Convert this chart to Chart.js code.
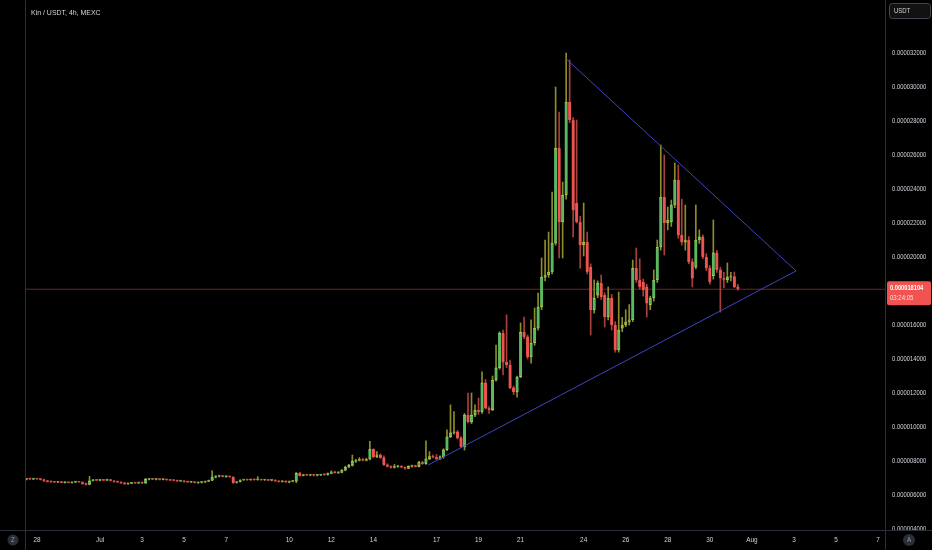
<!DOCTYPE html>
<html>
<head>
<meta charset="utf-8">
<script src="https://cdn.jsdelivr.net/npm/chart.js@4.4.1/dist/chart.umd.min.js"></script>
<style>
  html, body { margin: 0; padding: 0; background: #000; }
  #wrap { width: 932px; height: 550px; }
</style>
</head>
<body>
<div id="wrap"><canvas id="kinChart" width="932" height="550"></canvas></div>
<script>
// Kin / USDT 4h candles, prices in units of 1e-6 USDT: [open, high, low, close]
const baseCandles = [
  [6.92,6.98,6.88,6.95],[6.95,6.99,6.90,6.93],[6.93,6.97,6.90,6.96],[6.96,6.98,6.91,6.94],
  [6.94,6.97,6.88,6.90],[6.90,6.93,6.80,6.82],[6.82,6.86,6.76,6.79],[6.79,6.82,6.74,6.77],
  [6.77,6.80,6.72,6.75],[6.75,6.79,6.72,6.77],[6.77,6.79,6.71,6.73],[6.73,6.77,6.70,6.75],
  [6.75,6.78,6.71,6.72],[6.72,6.78,6.70,6.76],[6.76,6.80,6.72,6.78],[6.78,6.81,6.74,6.75],
  [6.75,6.78,6.62,6.65],[6.65,6.70,6.58,6.62],[6.62,7.10,6.60,6.84],[6.84,6.92,6.82,6.88],
  [6.88,6.92,6.85,6.86],[6.86,6.90,6.83,6.88],[6.88,6.92,6.84,6.86],[6.86,6.93,6.84,6.90],
  [6.90,6.92,6.82,6.84],[6.84,6.86,6.76,6.78],[6.78,6.82,6.74,6.76],[6.76,6.79,6.68,6.70],
  [6.70,6.74,6.62,6.65],[6.65,6.70,6.62,6.68],[6.68,6.74,6.66,6.72],[6.72,6.75,6.68,6.70],
  [6.70,6.76,6.68,6.74],[6.74,6.77,6.66,6.70],[6.70,6.98,6.68,6.92],[6.92,6.96,6.88,6.94],
  [6.94,6.97,6.90,6.92],[6.92,6.96,6.89,6.93],[6.93,6.96,6.88,6.90],[6.90,6.95,6.88,6.93],
  [6.93,6.95,6.86,6.88],[6.88,6.92,6.84,6.86],[6.86,6.90,6.82,6.85],[6.85,6.88,6.80,6.82],
  [6.82,6.86,6.79,6.84],[6.84,6.86,6.76,6.78],[6.78,6.82,6.74,6.76],[6.76,6.80,6.72,6.78],
  [6.78,6.80,6.70,6.72],[6.72,6.76,6.68,6.74],[6.74,6.78,6.70,6.76],[6.76,6.82,6.74,6.80],
  [6.80,6.88,6.78,6.86],[6.86,7.42,6.84,7.05],[7.05,7.14,7.00,7.10],[7.10,7.16,7.06,7.12],
  [7.12,7.15,7.06,7.08],[7.08,7.12,7.04,7.10],[7.10,7.13,7.04,7.06],[7.06,7.08,6.68,6.72],
  [6.72,6.80,6.70,6.78],[6.78,6.90,6.76,6.88],[6.88,6.92,6.85,6.90],[6.90,6.93,6.86,6.88],
  [6.88,6.94,6.86,6.92],[6.92,6.94,6.87,6.89],[6.89,7.08,6.87,6.91],[6.91,6.93,6.86,6.88],
  [6.88,6.92,6.85,6.90],[6.90,6.92,6.84,6.86],[6.86,6.90,6.83,6.88],[6.88,6.90,6.80,6.82],
  [6.82,6.85,6.76,6.78],[6.78,6.84,6.76,6.82],[6.82,6.84,6.74,6.76],[6.76,6.82,6.72,6.80],
  [6.80,6.84,6.77,6.82],[6.82,7.32,6.72,7.28]
];
const rallyCandles = [
  [7.28,7.34,7.10,7.14],[7.14,7.22,7.12,7.19],[7.19,7.22,7.14,7.16],[7.16,7.21,7.13,7.18],
  [7.18,7.20,7.12,7.15],[7.15,7.20,7.12,7.17],[7.17,7.22,7.14,7.20],[7.20,7.25,7.16,7.18],
  [7.18,7.30,7.16,7.27],[7.27,7.42,7.24,7.36],[7.36,7.40,7.28,7.30],[7.30,7.36,7.26,7.33],
  [7.33,7.50,7.30,7.46],[7.46,7.70,7.42,7.64],[7.64,7.80,7.60,7.74],[7.74,8.35,7.70,7.98],
  [7.98,8.10,7.92,8.04],[8.04,8.20,8.00,8.08],[8.08,8.14,8.00,8.04],[8.04,8.16,8.00,8.10],
  [8.10,9.15,8.06,8.68],[8.68,8.72,8.20,8.24],[8.24,8.55,8.20,8.36],[8.36,8.42,8.16,8.20],
  [8.20,8.30,7.74,7.78],[7.78,7.84,7.64,7.68],[7.68,7.72,7.58,7.62],[7.62,7.80,7.58,7.66],
  [7.66,7.74,7.62,7.70],[7.70,7.73,7.60,7.63],[7.63,7.66,7.52,7.56],[7.56,7.72,7.54,7.68],
  [7.68,7.76,7.64,7.72],[7.72,7.76,7.64,7.67],[7.67,7.98,7.65,7.94],[7.94,7.98,7.80,7.84],
  [7.84,9.18,7.80,8.12],[8.12,8.55,8.08,8.26],[8.26,8.36,8.18,8.22],[8.22,8.38,8.08,8.12],
  [8.12,8.30,8.08,8.24],[8.24,8.72,8.16,8.66],[8.66,9.84,8.60,9.42],[9.42,11.30,9.38,9.66],
  [9.66,10.90,9.58,9.72],[9.72,9.80,9.30,9.36],[9.36,9.44,8.80,8.84],[8.84,10.80,8.64,10.70],
  [10.70,12.00,10.24,10.30],[10.30,12.00,10.20,10.70],[10.70,11.30,10.60,11.00],[11.00,11.70,10.74,10.90],
  [10.90,13.24,10.80,12.60],[12.60,12.80,11.06,11.10],[11.10,11.20,10.80,11.00],[11.00,13.00,10.96,12.76],
  [12.76,14.82,12.70,13.48],[13.48,15.60,13.40,15.52],[15.52,15.70,13.06,13.82],[13.82,16.60,13.50,13.66],
  [13.66,13.94,12.26,12.30],[12.30,12.40,11.90,12.06],[12.06,13.00,11.76,12.94],[12.94,16.12,12.90,15.58],
  [15.58,16.47,15.20,15.30],[15.30,15.41,14.00,14.12],[14.12,16.30,13.76,14.94],[14.94,17.00,14.80,15.82]
];
const peakCandles = [
  [15.82,17.88,15.70,17.06],[17.06,19.94,16.90,18.82],[18.82,21.00,18.60,18.94],[18.94,21.47,18.80,19.12],
  [19.12,23.82,19.00,20.82],[20.82,30.00,20.70,26.41],[26.41,28.53,19.94,22.06],[22.06,24.41,19.94,23.65],
  [23.65,32.00,23.40,29.12],[29.12,31.59,27.90,28.06],[28.06,28.20,21.18,22.76],[23.18,28.06,22.00,22.06],
  [22.06,22.40,19.35,20.71],[20.71,23.18,20.06,20.88],[20.88,21.47,19.00,19.12],[19.41,19.60,15.41,16.88],
  [16.88,18.65,16.70,17.59],[17.76,18.60,17.60,18.47],[18.47,18.94,17.50,17.65],[17.76,17.90,15.88,16.47],
  [16.47,18.24,16.30,17.59],[17.59,17.80,15.70,16.00],[16.00,16.20,14.40,14.53],[14.53,17.94,14.40,15.70],
  [15.82,16.45,15.60,16.00],[16.00,16.90,15.90,16.18],[16.18,17.20,16.00,16.30]
];
const wedgeCandles = [
  [16.30,19.82,16.20,19.35],[19.35,20.53,18.50,18.65],[18.65,19.90,18.10,18.24],[18.53,18.70,17.70,18.06],
  [18.24,18.40,16.47,17.29],[17.18,17.70,16.90,17.59],[17.59,19.24,17.40,18.65],[18.65,21.00,18.50,20.59],
  [20.59,26.59,20.40,23.53],[23.53,26.00,20.12,22.00],[22.00,22.94,21.60,22.18],[22.06,23.35,21.80,23.06],
  [23.06,25.53,22.90,24.53],[24.53,25.41,21.10,21.29],[21.29,23.40,20.70,20.88],[20.88,23.06,20.40,21.00],
  [21.00,21.20,19.60,19.71],[19.71,19.90,18.24,18.76],[19.40,23.06,19.30,21.00],[21.00,21.60,20.80,21.18],
  [21.18,21.30,19.90,20.00],[20.00,20.20,19.20,19.35],[19.35,19.50,18.40,18.53],[18.90,22.18,18.70,20.24],
  [20.24,20.40,19.10,19.24],[19.24,19.40,16.76,18.76],[18.76,19.10,18.20,18.65],[18.65,19.65,18.50,18.82],
  [18.82,19.10,18.60,18.85],[18.85,19.12,18.20,18.24],[18.24,18.40,18.05,18.104]
];

const firstCandleDay = -3.5;      // Jun 27 12:00, counted in days from Jul 1
const candleStep = 4 / 24;        // 4h bars

const xTickDays = [-3, 0, 2, 4, 6, 9, 11, 13, 16, 18, 20, 23, 25, 27, 29, 31, 33, 35, 37];
const xTickLabels = ['28', 'Jul', '3', '5', '7', '10', '12', '14', '17', '19', '21', '24', '26', '28', '30', 'Aug', '3', '5', '7'];
const yTickValues = [4, 6, 8, 10, 12, 14, 16, 18, 20, 22, 24, 26, 28, 30, 32];

const lastPrice = 18.104;
const countdown = '03:24:05';
const upperTrend = [{ x: 22.14, y: 31.69 }, { x: 33.1, y: 19.18 }];
const lowerTrend = [{ x: 15.6, y: 7.76 }, { x: 33.1, y: 19.18 }];

const X_MIN = -3.52, X_MAX = 37.33;
const Y_MIN = 3.94, Y_MAX = 35.12;

const UP = '#5cb860';
const DOWN = '#ef5350';
const UP_EDGE = '#c8c43c';
const UP_WICK = '#8e8c2a';
const DOWN_WICK = '#a8403c';
const TEXT = '#d1d4dc';
const FONT = "'Liberation Sans', Arial, sans-serif";

const candles = [...baseCandles, ...rallyCandles, ...peakCandles, ...wedgeCandles];
const bodies = candles.map((c, i) => ({ x: firstCandleDay + i * candleStep, y: [c[0], c[3]], up: c[3] >= c[0] }));
const wicks = candles.map((c, i) => ({ x: firstCandleDay + i * candleStep, y: [c[2], c[1]], up: c[3] >= c[0] }));

// TradingView's axis text is narrow; squeeze the regular font horizontally
function narrowText(ctx, text, x, y, squeeze, align) {
  ctx.save();
  ctx.translate(x, y);
  ctx.scale(squeeze, 1);
  ctx.textAlign = align;
  ctx.fillText(text, 0, 0);
  ctx.restore();
}

const decor = {
  id: 'decor',
  afterDraw(chart) {
    const { ctx, chartArea: a, scales: { x, y } } = chart;
    ctx.save();
    ctx.textBaseline = 'middle';

    // panel separators
    ctx.strokeStyle = '#2a2e39';
    ctx.lineWidth = 1;
    ctx.beginPath();
    ctx.moveTo(a.left - 0.5, 0); ctx.lineTo(a.left - 0.5, chart.height);
    ctx.moveTo(a.right + 0.5, 0); ctx.lineTo(a.right + 0.5, chart.height);
    ctx.moveTo(0, a.bottom + 0.5); ctx.lineTo(chart.width, a.bottom + 0.5);
    ctx.stroke();

    // price axis labels
    ctx.save();
    ctx.beginPath();
    ctx.rect(a.right + 1, 0, chart.width - a.right, a.bottom);
    ctx.clip();
    ctx.fillStyle = TEXT;
    ctx.font = '7.5px ' + FONT;
    yTickValues.forEach(v => {
      narrowText(ctx, (v / 1e6).toFixed(9), a.right + 7, y.getPixelForValue(v), 0.78, 'left');
    });
    ctx.restore();

    // time axis labels
    ctx.fillStyle = TEXT;
    ctx.font = '8px ' + FONT;
    xTickDays.forEach((d, i) => {
      narrowText(ctx, xTickLabels[i], x.getPixelForValue(d), 540, 0.8, 'center');
    });

    // title
    ctx.font = '8px ' + FONT;
    narrowText(ctx, 'Kin / USDT, 4h, MEXC', a.left + 5, 13, 0.87, 'left');

    // currency box
    ctx.fillStyle = '#121212';
    ctx.strokeStyle = '#434651';
    ctx.beginPath();
    ctx.roundRect(a.right + 4.5, 3.5, 41, 15, 3);
    ctx.fill(); ctx.stroke();
    ctx.fillStyle = '#d1d4dc';
    ctx.font = '7px ' + FONT;
    narrowText(ctx, 'USDT', a.right + 9, 11, 0.85, 'left');

    // last price label
    const py = y.getPixelForValue(lastPrice);
    ctx.fillStyle = '#f05350';
    ctx.beginPath();
    ctx.roundRect(a.right + 2, py - 8, 44, 24, 2);
    ctx.fill();
    ctx.fillStyle = '#ffffff';
    ctx.font = 'bold 7.5px ' + FONT;
    narrowText(ctx, (lastPrice / 1e6).toFixed(9), a.right + 5, py - 1, 0.76, 'left');
    ctx.fillStyle = 'rgba(255,255,255,0.8)';
    ctx.font = '7.5px ' + FONT;
    narrowText(ctx, countdown, a.right + 5, py + 9, 0.8, 'left');

    // small round buttons
    ctx.fillStyle = '#2a2e39';
    ctx.beginPath(); ctx.arc(13, 540, 5.5, 0, Math.PI * 2); ctx.fill();
    ctx.beginPath(); ctx.arc(909, 540, 6, 0, Math.PI * 2); ctx.fill();
    ctx.fillStyle = '#9598a1';
    ctx.font = '7px ' + FONT;
    narrowText(ctx, 'Z', 13, 540, 0.9, 'center');
    narrowText(ctx, 'A', 909, 540, 0.9, 'center');
    ctx.restore();
  }
};

new Chart(document.getElementById('kinChart'), {
  type: 'bar',
  data: {
    datasets: [
      {
        label: 'price line',
        type: 'line',
        data: [{ x: X_MIN, y: lastPrice }, { x: X_MAX, y: lastPrice }],
        borderColor: 'rgba(239, 83, 80, 0.45)',
        borderWidth: 1,
        pointRadius: 0,
        order: 3,
      },
      {
        label: 'wicks',
        data: wicks,
        backgroundColor: ctx => (ctx.raw && ctx.raw.up ? UP_WICK : DOWN_WICK),
        barThickness: 1,
        grouped: false,
        order: 2,
      },
      {
        label: 'bodies',
        data: bodies,
        backgroundColor: ctx => (ctx.raw && ctx.raw.up ? UP : DOWN),
        borderColor: ctx => (ctx.raw && ctx.raw.up ? UP_EDGE : DOWN),
        borderWidth: { top: 1, bottom: 1, left: 0, right: 0 },
        borderSkipped: false,
        barThickness: 3,
        minBarLength: 1,
        grouped: false,
        order: 1,
      },
      {
        label: 'upper trend',
        type: 'line',
        data: upperTrend,
        borderColor: '#3d45c4',
        borderWidth: 1,
        pointRadius: 0,
        order: 0,
      },
      {
        label: 'lower trend',
        type: 'line',
        data: lowerTrend,
        borderColor: '#3d45c4',
        borderWidth: 1,
        pointRadius: 0,
        order: 0,
      },
    ],
  },
  options: {
    responsive: false,
    animation: false,
    layout: { padding: { left: 26, top: 0, right: 0, bottom: 0 } },
    plugins: {
      legend: { display: false },
      tooltip: { enabled: false },
    },
    scales: {
      x: {
        type: 'linear',
        offset: false,
        min: X_MIN,
        max: X_MAX,
        grid: { display: false },
        border: { display: false },
        ticks: { display: false },
        afterFit: scale => { scale.height = 20; scale.paddingLeft = 0; scale.paddingRight = 0; },
      },
      y: {
        position: 'right',
        min: Y_MIN,
        max: Y_MAX,
        grid: { display: false },
        border: { display: false },
        ticks: { display: false },
        afterFit: scale => { scale.width = 47; scale.paddingTop = 0; scale.paddingBottom = 0; },
      },
    },
  },
  plugins: [decor],
});
</script>
</body>
</html>
